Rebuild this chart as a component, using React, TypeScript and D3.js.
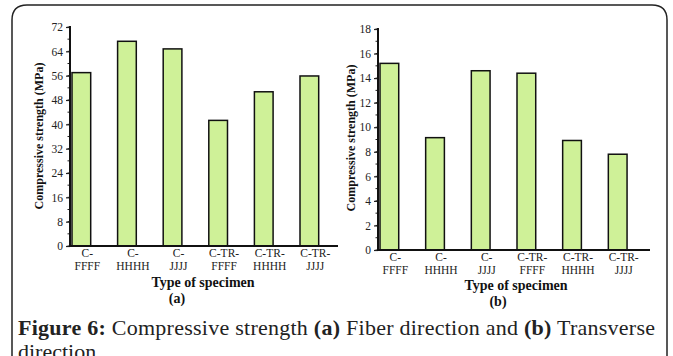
import React, { useEffect, useRef } from 'react';
import * as d3 from 'd3';

const specimens = ['C-|FFFF', 'C-|HHHH', 'C-|JJJJ', 'C-TR-|FFFF', 'C-TR-|HHHH', 'C-TR-|JJJJ'];
const fiberValues = [57, 67.3, 64.8, 41.3, 50.7, 55.9];
const transverseValues = [15.2, 9.15, 14.6, 14.4, 8.92, 7.8];
const fiberTicks = [0, 8, 16, 24, 32, 40, 48, 56, 64, 72];
const transverseTicks = [0, 2, 4, 6, 8, 10, 12, 14, 16, 18];

const serif = "'Liberation Serif', 'Times New Roman', serif";

function drawPanel(svg, o) {
  const g = svg.append('g');
  const x = d3.scaleBand().domain(specimens).range([o.left, o.right]);
  const y = d3.scaleLinear().domain([0, o.max]).range([o.bottom, o.top]);
  const bw = x.bandwidth();

  g.selectAll('rect.bar').data(o.values).join('rect').attr('class', 'bar')
    .attr('x', (d, i) => x(specimens[i]) + 2)
    .attr('width', bw * 0.41)
    .attr('y', d => y(d))
    .attr('height', d => y(0) - y(d))
    .attr('fill', '#cff198').attr('stroke', '#111').attr('stroke-width', 1.5);

  // minor ticks
  g.selectAll('line.minor').data(d3.range(0, o.max + 0.001, o.minor)).join('line').attr('class', 'minor')
    .attr('x1', o.left - 2.5).attr('x2', o.left).attr('y1', d => y(d)).attr('y2', d => y(d))
    .attr('stroke', '#222').attr('stroke-width', 1);

  const yAxis = g.append('g').attr('transform', `translate(${o.left},0)`)
    .call(d3.axisLeft(y).tickValues(o.ticks).tickSize(4).tickPadding(3));
  yAxis.select('.domain').remove();
  yAxis.selectAll('line').attr('stroke', '#222').attr('stroke-width', 1.2);
  yAxis.selectAll('text').attr('font-family', null).style('font-family', serif).attr('font-size', 11.5).attr('fill', '#222');

  g.append('line').attr('x1', o.left).attr('x2', o.left).attr('y1', o.top - 1).attr('y2', o.bottom + 1)
    .attr('stroke', '#111').attr('stroke-width', 2);
  g.append('line').attr('x1', o.left - 1).attr('x2', o.axisEnd).attr('y1', o.bottom).attr('y2', o.bottom)
    .attr('stroke', '#111').attr('stroke-width', 2);

  const lbl = g.selectAll('text.xl').data(specimens).join('text').attr('class', 'xl')
    .attr('text-anchor', 'middle').style('font-family', serif).attr('font-size', 11.5).attr('fill', '#222');
  lbl.append('tspan').attr('x', d => x(d) + bw * 0.38).attr('y', o.bottom + 11).text(d => d.split('|')[0]);
  lbl.append('tspan').attr('x', d => x(d) + bw * 0.38).attr('y', o.bottom + 24).text(d => d.split('|')[1]);

  g.append('text').attr('transform', `translate(${o.yTitleX},${o.yTitleY}) rotate(-90)`)
    .attr('text-anchor', 'middle').style('font-family', serif).attr('font-weight', 'bold')
    .attr('font-size', 12).attr('fill', '#111').text('Compressive strength (MPa)');
  g.append('text').attr('x', o.xTitleX).attr('y', o.xTitleY).attr('text-anchor', 'middle')
    .style('font-family', serif).attr('font-weight', 'bold').attr('font-size', 14).attr('fill', '#111')
    .text('Type of specimen');
  g.append('text').attr('x', o.tagX).attr('y', o.xTitleY + 16).attr('text-anchor', 'middle')
    .style('font-family', serif).attr('font-weight', 'bold').attr('font-size', 14).attr('fill', '#111')
    .text(o.tag);
}

export default function App() {
  const ref = useRef(null);

  useEffect(() => {
    const svg = d3.select(ref.current);
    svg.selectAll('*').remove();

    // frame with rounded top corners
    svg.append('path')
      .attr('d', 'M12,360 L12,20 Q12,5 27,5 L652,5 Q667,5 667,20 L667,360')
      .attr('fill', 'none').attr('stroke', '#222').attr('stroke-width', 1.5);

    drawPanel(svg, {
      values: fiberValues, ticks: fiberTicks, max: 72, minor: 4,
      left: 70, right: 343.6, top: 27, bottom: 246, axisEnd: 338,
      yTitleX: 43, yTitleY: 136, xTitleX: 203, xTitleY: 287, tagX: 177, tag: '(a)'
    });
    drawPanel(svg, {
      values: transverseValues, ticks: transverseTicks, max: 18, minor: 1,
      left: 378, right: 652, top: 29, bottom: 250, axisEnd: 650,
      yTitleX: 355, yTitleY: 138, xTitleX: 516, xTitleY: 290, tagX: 498, tag: '(b)'
    });

    const cap = svg.append('text').attr('x', 18).attr('y', 335).style('font-family', serif)
      .attr('font-size', 22).attr('fill', '#222').attr('textLength', 637).attr('lengthAdjust', 'spacing');
    cap.append('tspan').attr('font-weight', 'bold').text('Figure 6:');
    cap.append('tspan').text(' Compressive strength ');
    cap.append('tspan').attr('font-weight', 'bold').text('(a)');
    cap.append('tspan').text(' Fiber direction and ');
    cap.append('tspan').attr('font-weight', 'bold').text('(b)');
    cap.append('tspan').text(' Transverse');
    svg.append('text').attr('x', 18).attr('y', 359).style('font-family', serif)
      .attr('font-size', 22).attr('fill', '#222').text('direction');
  }, []);

  return (
    <svg ref={ref} width={673} height={356}
      style={{ position: 'absolute', left: 0, top: 0, background: '#fff' }} />
  );
}
